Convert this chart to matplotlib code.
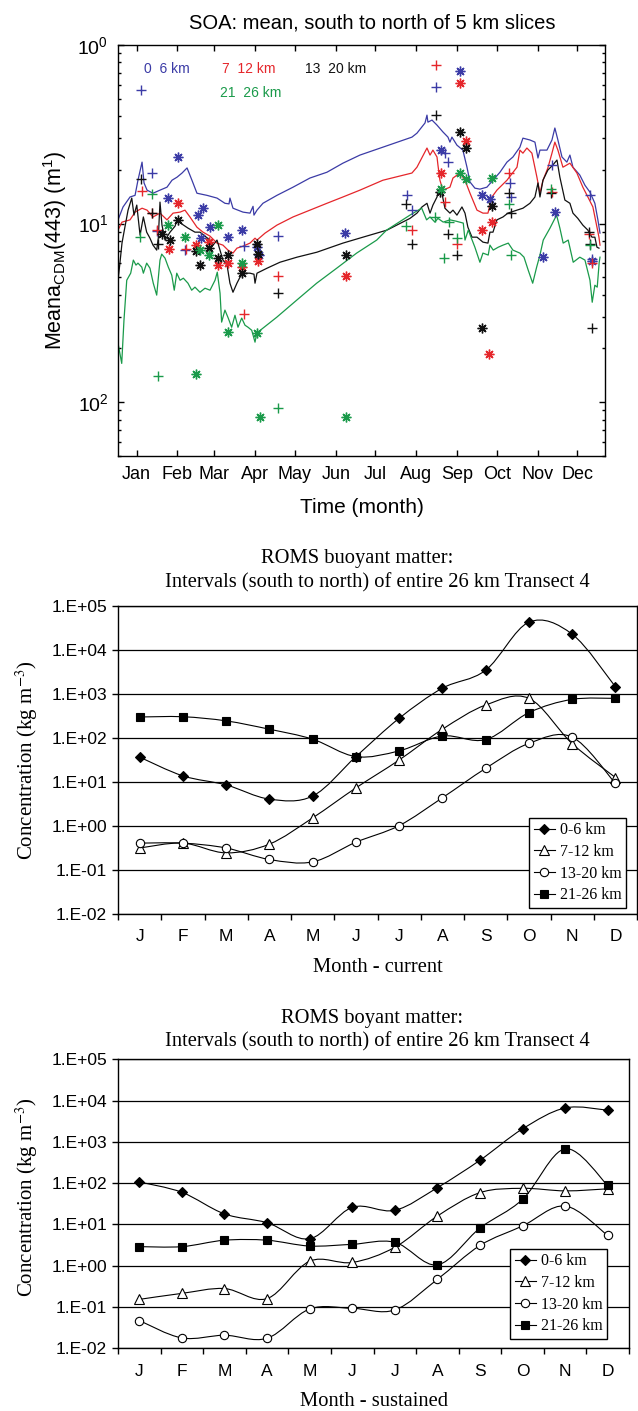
import numpy as np
import matplotlib
matplotlib.use("Agg")
import matplotlib.pyplot as plt
from matplotlib.path import Path
from matplotlib.patches import PathPatch
from matplotlib.lines import Line2D
from matplotlib.ticker import FixedLocator, FixedFormatter, LogLocator, FuncFormatter, NullFormatter

plt.rcParams["font.family"] = ["Liberation Sans", "DejaVu Sans"]
plt.rcParams["mathtext.fontset"] = "custom"
plt.rcParams["mathtext.rm"] = "Liberation Sans"
plt.rcParams["mathtext.it"] = "Liberation Sans:italic"

# ---- SOA satellite panel: day of year vs mean a_CDM(443) ----
month_days = [15, 46, 74, 105, 135, 166, 196, 227, 258, 288, 319, 349]
month_names = ["Jan", "Feb", "Mar", "Apr", "May", "Jun", "Jul", "Aug", "Sep", "Oct", "Nov", "Dec"]

mean_0_6 = [(1, 0.105), (4.8, 0.124), (10.1, 0.141), (13.9, 0.144), (16.1, 0.175), (19.2, 0.221),
            (20.7, 0.169), (23.0, 0.154), (27.5, 0.148), (32.8, 0.154), (38.1, 0.160), (41.9, 0.175),
            (45.7, 0.182), (49.5, 0.192), (53.3, 0.205), (57.0, 0.175), (60.8, 0.148), (68.4, 0.144),
            (76.0, 0.139), (82.0, 0.130), (85.1, 0.129), (85.8, 0.139), (88.1, 0.122), (95.7, 0.116),
            (101.0, 0.1145), (103.3, 0.125), (104.0, 0.1116), (106.3, 0.119), (110.8, 0.130),
            (121.4, 0.144), (133.6, 0.160), (146.4, 0.180), (159.3, 0.194), (171.4, 0.218),
            (184.3, 0.242), (201.7, 0.268), (223.7, 0.305), (227.5, 0.321), (233.6, 0.366),
            (235.1, 0.405), (235.8, 0.370), (238.9, 0.380), (242.7, 0.356), (247.2, 0.326),
            (251.0, 0.305), (252.5, 0.286), (254.0, 0.305), (257.8, 0.275), (262.3, 0.258),
            (265.4, 0.207), (267.7, 0.171), (271.4, 0.158), (275.2, 0.156), (280.5, 0.160),
            (285.1, 0.175), (290.4, 0.194), (295.7, 0.221), (300.2, 0.236), (305.5, 0.268),
            (307.8, 0.301), (313.1, 0.294), (316.9, 0.286), (319.2, 0.233), (320.7, 0.258),
            (326.0, 0.258), (329.8, 0.294), (332.0, 0.343), (334.3, 0.294), (337.4, 0.236),
            (341.1, 0.221), (343.4, 0.242), (345.7, 0.207), (350.9, 0.187), (354.8, 0.164),
            (358.6, 0.150), (362.3, 0.130), (364.6, 0.105), (366.2, 0.0885)]

mean_7_12 = [(1, 0.092), (4.0, 0.102), (10.1, 0.105), (13.9, 0.116), (19.2, 0.122), (23.0, 0.119),
             (27.5, 0.109), (32.8, 0.1145), (38.1, 0.105), (42.7, 0.1145), (48.0, 0.116), (51.7, 0.119),
             (55.5, 0.109), (60.8, 0.0955), (65.4, 0.0896), (70.7, 0.0851), (76.0, 0.0778),
             (80.5, 0.0758), (84.3, 0.0711), (88.1, 0.0684), (91.1, 0.0729), (95.7, 0.0748),
             (101.0, 0.0778), (104.8, 0.0829), (106.3, 0.0809), (112.4, 0.0885), (121.4, 0.0981),
             (133.6, 0.109), (146.4, 0.119), (159.3, 0.130), (171.4, 0.141), (184.3, 0.154),
             (201.7, 0.175), (223.7, 0.192), (227.5, 0.207), (235.1, 0.265), (237.4, 0.242),
             (239.6, 0.258), (242.7, 0.236), (243.4, 0.213), (244.9, 0.175), (247.2, 0.154),
             (252.5, 0.160), (254.8, 0.180), (260.1, 0.192), (263.9, 0.175), (267.7, 0.148),
             (273.0, 0.119), (277.5, 0.1145), (281.3, 0.1145), (284.3, 0.141), (288.1, 0.154),
             (295.7, 0.175), (303.3, 0.207), (305.5, 0.258), (307.8, 0.248), (310.8, 0.265),
             (314.6, 0.248), (318.4, 0.182), (320.7, 0.148), (323.0, 0.175), (326.7, 0.205),
             (329.8, 0.248), (332.0, 0.286), (334.3, 0.258), (338.1, 0.207), (343.4, 0.218),
             (348.7, 0.192), (353.2, 0.160), (357.0, 0.141), (360.8, 0.124), (363.9, 0.0955),
             (365.4, 0.0840), (366.2, 0.0758)]

mean_13_20 = [(1, 0.0482), (2.5, 0.0608), (4.0, 0.0778), (5.5, 0.0896), (8.6, 0.119), (11.4, 0.139),
              (13.1, 0.1116), (15.2, 0.127), (17.7, 0.0862), (20.2, 0.109), (22.7, 0.0896),
              (25.2, 0.0829), (27.5, 0.0758), (30.3, 0.0711), (31.5, 0.0829), (32.8, 0.132),
              (34.3, 0.0981), (36.6, 0.0809), (40.4, 0.0896), (44.2, 0.0968), (45.7, 0.105),
              (49.5, 0.0994), (54.0, 0.0944), (59.3, 0.0896), (63.1, 0.0896), (66.9, 0.0851),
              (70.7, 0.0809), (73.0, 0.0758), (76.0, 0.0809), (80.5, 0.0625), (83.6, 0.0586),
              (85.8, 0.0464), (88.1, 0.0413), (91.1, 0.0464), (93.4, 0.0501), (95.7, 0.0528),
              (101.0, 0.0528), (104.0, 0.0521), (104.8, 0.0464), (106.3, 0.0528), (113.9, 0.0563),
              (123.7, 0.0608), (136.6, 0.0649), (151.7, 0.0692), (171.4, 0.0778), (186.6, 0.0840),
              (204.8, 0.092), (222.2, 0.107), (227.5, 0.1145), (231.3, 0.124), (235.1, 0.130),
              (237.4, 0.1145), (239.6, 0.127), (242.7, 0.141), (243.4, 0.150), (246.4, 0.148),
              (248.7, 0.122), (252.5, 0.1145), (254.8, 0.119), (257.8, 0.1116), (261.6, 0.124),
              (263.9, 0.1145), (266.1, 0.0955), (269.2, 0.0840), (273.0, 0.0840), (277.5, 0.0788),
              (281.3, 0.0778), (282.8, 0.0896), (285.1, 0.0896), (288.1, 0.105), (292.7, 0.109),
              (296.4, 0.1145), (303.3, 0.119), (307.8, 0.122), (313.1, 0.130), (316.9, 0.141),
              (319.2, 0.169), (320.7, 0.141), (323.0, 0.175), (326.7, 0.1995), (330.5, 0.213),
              (333.6, 0.227), (335.8, 0.182), (339.6, 0.1355), (343.4, 0.130), (345.7, 0.1145),
              (349.4, 0.107), (353.2, 0.0981), (357.0, 0.092), (360.1, 0.0840), (362.3, 0.0840),
              (363.9, 0.0738), (365.4, 0.0729)]

mean_21_26 = [(1, 0.0214), (3.8, 0.0165), (5.5, 0.0288), (7.6, 0.0482), (10.6, 0.0528), (12.6, 0.0625),
              (14.6, 0.0586), (16.1, 0.0601), (19.0, 0.0571), (20.2, 0.0528), (22.7, 0.0601),
              (25.2, 0.0563), (27.7, 0.0464), (30.3, 0.0398), (32.8, 0.0625), (34.1, 0.0675),
              (36.6, 0.0641), (39.1, 0.0571), (41.7, 0.0515), (43.6, 0.0424), (45.5, 0.0528),
              (48.0, 0.0482), (50.5, 0.0495), (54.0, 0.0464), (56.8, 0.0424), (59.3, 0.0441),
              (63.1, 0.0413), (66.9, 0.0435), (70.7, 0.0424), (74.5, 0.0482), (76.2, 0.0535),
              (78.3, 0.0408), (79.5, 0.0281), (82.0, 0.0328), (84.5, 0.0296), (87.1, 0.0263),
              (89.6, 0.0307), (91.9, 0.0263), (94.7, 0.0296), (97.2, 0.0270), (99.5, 0.0263),
              (102.3, 0.0253), (104.8, 0.0217), (106.1, 0.0244), (121.2, 0.0299), (136.4, 0.0373),
              (151.5, 0.0464), (166.7, 0.0563), (181.8, 0.0684), (197.0, 0.0809), (204.5, 0.092),
              (222.2, 0.1116), (228.5, 0.119), (231.1, 0.122), (234.8, 0.105), (237.4, 0.109),
              (241.1, 0.102), (243.4, 0.107), (247.4, 0.102), (252.5, 0.105), (257.0, 0.1033),
              (262.6, 0.1007), (263.9, 0.0809), (266.4, 0.092), (271.4, 0.0738), (275.2, 0.0608),
              (277.5, 0.0684), (281.5, 0.0667), (282.8, 0.0758), (285.3, 0.0711), (289.1, 0.0738),
              (292.7, 0.0758), (296.7, 0.0778), (300.2, 0.0711), (305.5, 0.0684), (308.6, 0.0649),
              (311.8, 0.0549), (315.2, 0.0464), (318.2, 0.0571), (320.7, 0.0667), (323.2, 0.0809),
              (328.3, 0.0944), (333.3, 0.1116), (335.8, 0.0944), (338.3, 0.0778), (342.1, 0.0809),
              (345.9, 0.0608), (350.9, 0.0649), (354.8, 0.0625), (358.6, 0.0482), (360.3, 0.0363),
              (362.3, 0.0452), (364.1, 0.0441), (365.6, 0.0608), (366.2, 0.0649)]

# individual scenes: '+' and asterisk markers
plus_0_6 = [(18.4, 0.56), (26.5, 0.193), (30.3, 0.091), (51.7, 0.071), (96.5, 0.075), (122.4, 0.085),
            (219.7, 0.144), (223.5, 0.119), (242, 0.584), (248.7, 0.249), (251, 0.222), (298, 0.169),
            (299, 0.141), (329.5, 0.213), (358.6, 0.144), (360, 0.063)]
star_0_6 = [(39, 0.140), (46.7, 0.237), (61.8, 0.112), (63.5, 0.083), (65.6, 0.122), (70.7, 0.096),
            (84, 0.084), (94.7, 0.092), (106, 0.074), (108, 0.067), (173, 0.089), (246, 0.258),
            (260, 0.718), (276.5, 0.144), (282.8, 0.138), (322.8, 0.065), (332, 0.116), (360, 0.062)]
plus_7_12 = [(19, 0.153), (26.5, 0.115), (30.3, 0.092), (52.5, 0.072), (96.7, 0.031), (122, 0.051),
             (224, 0.092), (242, 0.773), (248.7, 0.132), (258, 0.077), (297.5, 0.191), (329.5, 0.151),
             (358, 0.088), (360, 0.060)]
star_7_12 = [(39.8, 0.072), (46.7, 0.130), (60, 0.076), (70, 0.079), (77, 0.059), (84.6, 0.060),
             (94.7, 0.057), (107, 0.062), (173.5, 0.051), (245.4, 0.191), (260, 0.615), (265, 0.291),
             (277, 0.092), (282, 0.0186), (284, 0.102)]
plus_13_20 = [(18.4, 0.177), (26.5, 0.115), (31, 0.077), (122, 0.041), (219, 0.129), (224, 0.077),
              (242, 0.405), (251, 0.088), (258, 0.067), (297.5, 0.148), (298.5, 0.115), (329, 0.148),
              (358, 0.090), (358.6, 0.077), (360, 0.026)]
star_13_20 = [(34, 0.087), (40, 0.081), (46.7, 0.105), (60, 0.070), (63, 0.059), (70, 0.073),
              (77, 0.064), (84, 0.067), (94.7, 0.053), (106, 0.077), (107, 0.068), (173.5, 0.067),
              (245, 0.151), (260, 0.327), (265, 0.264), (277, 0.0259), (284, 0.126)]
plus_21_26 = [(18, 0.084), (26.5, 0.146), (31, 0.014), (122, 0.0093), (219, 0.097), (241, 0.109),
              (248, 0.064), (252, 0.102), (258, 0.083), (297.5, 0.129), (299, 0.067), (329, 0.157),
              (358.6, 0.076)]
star_21_26 = [(39, 0.098), (51.8, 0.084), (60, 0.0144), (63, 0.071), (70, 0.067), (77, 0.098),
              (84.6, 0.0246), (94.7, 0.060), (106, 0.0243), (108.6, 0.0083), (173.5, 0.0083),
              (246, 0.157), (260, 0.191), (265, 0.177), (284, 0.181)]

soa_colors = ["#3b3ba6", "#e5262b", "#111111", "#1a9a4a"]
soa_names = ["0  6 km", "7  12 km", "13  20 km", "21  26 km"]

# ---- ROMS monthly concentrations (kg m-3) ----
months = ["J", "F", "M", "A", "M", "J", "J", "A", "S", "O", "N", "D"]
slices = ["0-6 km", "7-12 km", "13-20 km", "21-26 km"]

current_0_6 = [36, 13.5, 8.4, 4.0, 4.7, 37, 275, 1330, 3400, 42000, 22400, 1430]
current_7_12 = [0.31, 0.40, 0.24, 0.38, 1.5, 7.2, 31, 155, 550, 780, 73, 12.4]
current_13_20 = [0.40, 0.40, 0.31, 0.17, 0.15, 0.42, 1.0, 4.3, 20, 74, 103, 9.1]
current_21_26 = [294, 298, 240, 155, 92, 37, 50, 109, 90, 370, 740, 780]

sustained_0_6 = [107, 60, 18, 11, 4.5, 26, 22, 78, 360, 2070, 6650, 5850]
sustained_7_12 = [0.153, 0.214, 0.28, 0.16, 1.29, 1.2, 2.8, 16, 59, 75, 65, 73]
sustained_13_20 = [0.047, 0.0178, 0.0207, 0.0175, 0.0895, 0.093, 0.085, 0.47, 3.1, 9.2, 28, 5.4]
sustained_21_26 = [2.9, 2.9, 4.15, 4.15, 3.0, 3.3, 3.7, 1.05, 8.2, 40.6, 680, 88]

roms_markers = [dict(marker="D", ms=5.5, mfc="black"),
                dict(marker="^", ms=6.5, mfc="white"),
                dict(marker="o", ms=6, mfc="white"),
                dict(marker="s", ms=5.5, mfc="black")]


def smooth_path(x, y):
    # Excel-style smoothed line: cubic bezier through the points in (x, log y)
    pts = np.column_stack([x, np.log10(y)])
    n = len(pts)
    verts = [pts[0]]
    codes = [Path.MOVETO]
    for i in range(n - 1):
        p0 = pts[max(i - 1, 0)]
        p1, p2 = pts[i], pts[i + 1]
        p3 = pts[min(i + 2, n - 1)]
        verts += [p1 + (p2 - p0) / 6, p2 - (p3 - p1) / 6, p2]
        codes += [Path.CURVE4] * 3
    verts = np.array(verts)
    verts[:, 1] = 10 ** verts[:, 1]
    return Path(verts, codes)


fig = plt.figure(figsize=(6.38, 14.11), dpi=100)

# ---------------- top panel ----------------
ax = fig.add_axes([0.1850, 0.6768, 0.7633, 0.2913])
ax.set_yscale("log")
for data, c in zip([mean_0_6, mean_7_12, mean_13_20, mean_21_26], soa_colors):
    d = np.array(data)
    ax.plot(d[:, 0], d[:, 1], color=c, lw=0.9, zorder=2)
for pluses, stars, c in zip([plus_0_6, plus_7_12, plus_13_20, plus_21_26],
                            [star_0_6, star_7_12, star_13_20, star_21_26], soa_colors):
    p = np.array(pluses)
    s = np.array(stars)
    ax.plot(p[:, 0], p[:, 1], ls="none", marker="+", ms=7.5, mew=1.0, color=c, zorder=3)
    ax.plot(s[:, 0], s[:, 1], ls="none", marker=(8, 2, 0), ms=7, mew=1.0, color=c, zorder=3)

ax.set_xlim(1, 370)
ax.set_ylim(0.005, 1)
ax.set_xticks(month_days)
ax.set_xticklabels(month_names, fontsize=13)
ax.yaxis.set_major_locator(FixedLocator([0.01, 0.1, 1]))
ax.yaxis.set_major_formatter(FixedFormatter([r"$10^2$", r"$10^1$", r"$10^0$"]))
ax.yaxis.set_minor_locator(LogLocator(base=10, subs=np.arange(2, 10)))
ax.yaxis.set_minor_formatter(NullFormatter())
ax.tick_params(which="both", direction="in", top=True, right=True, width=1)
ax.tick_params(which="major", length=4.5, pad=7)
ax.tick_params(axis="y", which="major", labelsize=14)
ax.tick_params(which="minor", length=2.5)
for sp in ax.spines.values():
    sp.set_linewidth(1.0)
ax.set_xlabel("Time (month)", fontsize=15, labelpad=11)
ax.set_ylabel(r"Meana$_{\mathrm{CDM}}$(443) (m$^1$)", fontsize=15.5, labelpad=6)
fig.text(372 / 638, 1 - 22.7 / 1411, "SOA: mean, south to north of 5 km slices",
         ha="center", va="center", fontsize=14.5)

label_pos = [(0.0534, 0.9416), (0.2136, 0.9416), (0.384, 0.9416), (0.2094, 0.883)]
for name, c, (tx, ty) in zip(soa_names, soa_colors, label_pos):
    ax.text(tx, ty, name, color=c, fontsize=10, ha="left", va="center", transform=ax.transAxes)


# ---------------- ROMS panels ----------------
def roms_panel(ax, series, xlabel, title1, title2, t1_xy, t2_xy, legend_anchor):
    x = np.arange(12) + 0.5
    ax.set_yscale("log")
    for vals, mk in zip(series, roms_markers):
        ax.add_patch(PathPatch(smooth_path(x, vals), fill=False, lw=0.8, ec="black", zorder=3))
        ax.plot(x, vals, ls="none", color="black", mec="black", mew=0.8, zorder=4, **mk)
    ax.set_xlim(0, 12)
    ax.set_ylim(1e-2, 1e5)
    ax.yaxis.set_major_locator(LogLocator(base=10, numticks=10))
    ax.yaxis.set_minor_locator(FixedLocator([]))
    ax.yaxis.set_major_formatter(FuncFormatter(lambda v, _: "1.E%+03d" % round(np.log10(v))))
    ax.yaxis.grid(True, which="major", color="black", lw=0.9)
    ax.set_axisbelow(True)
    ax.set_xticks(np.arange(13))
    ax.set_xticklabels([])
    ax.set_xticks(x, minor=True)
    ax.set_xticklabels(months, minor=True, fontsize=12.5)
    ax.tick_params(axis="x", which="minor", length=0, pad=11)
    ax.tick_params(axis="x", which="major", length=4, width=1)
    ax.tick_params(axis="y", which="major", length=4, width=1, pad=4, labelsize=12.5)
    for sp in ax.spines.values():
        sp.set_linewidth(1.0)
    ax.set_xlabel(xlabel, family="Liberation Serif", fontsize=14.8, labelpad=10)
    fig.text(t1_xy[0], t1_xy[1], title1, family="Liberation Serif", fontsize=14.8,
             ha="center", va="center")
    fig.text(t2_xy[0], t2_xy[1], title2, family="Liberation Serif", fontsize=14.8,
             ha="center", va="center")
    handles = [Line2D([], [], color="black", lw=0.8, mec="black", mew=0.8, **mk) for mk in roms_markers]
    leg = ax.legend(handles, slices, loc="lower right", bbox_to_anchor=legend_anchor,
                    prop={"family": "Liberation Serif", "size": 11.5}, frameon=True, fancybox=False,
                    edgecolor="black", framealpha=1, handlelength=1.3, handletextpad=0.3,
                    labelspacing=0.35, borderpad=0.3, borderaxespad=0)
    leg.get_frame().set_linewidth(1.0)


ax2 = fig.add_axes([0.1850, 0.3525, 0.8135, 0.2183])
roms_panel(ax2, [current_0_6, current_7_12, current_13_20, current_21_26], "Month - current",
           "ROMS buoyant matter:", "Intervals (south to north) of entire 26 km Transect 4",
           (357 / 638, 1 - 559 / 1411), (377 / 638, 1 - 583 / 1411), (0.979, 0.0185))

ax3 = fig.add_axes([0.1850, 0.04444, 0.801, 0.2048])
roms_panel(ax3, [sustained_0_6, sustained_7_12, sustained_13_20, sustained_21_26], "Month - sustained",
           "ROMS boyant matter:", "Intervals (south to north) of entire 26 km Transect 4",
           (372 / 638, 1 - 1018.3 / 1411), (377 / 638, 1 - 1041.7 / 1411), (0.957, 0.032))

ylab = r"Concentration (kg m$^{-3}$)"
fig.text(27 / 638, 1 - 760 / 1411, ylab, rotation=90, ha="center", va="center",
         family="Liberation Serif", fontsize=15, math_fontfamily="stix")
fig.text(27 / 638, 1 - 1197 / 1411, ylab, rotation=90, ha="center", va="center",
         family="Liberation Serif", fontsize=15, math_fontfamily="stix")

fig.savefig("out.png", dpi=100)
